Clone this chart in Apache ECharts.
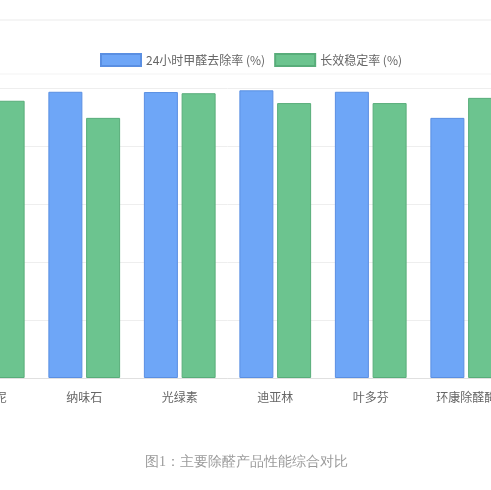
<!DOCTYPE html>
<html>
<head>
    <meta charset="UTF-8">
    <title>主要除醛产品性能综合对比</title>
    <script src="https://cdn.jsdelivr.net/npm/echarts@6/dist/echarts.min.js"></script>
    <style type="text/css">
        html, body {
            margin: 0;
            width: 491px;
            height: 490px;
            overflow: hidden;
            background: #fff;
        }
        #main {
            position: absolute;
            left: -100px;
            top: 0;
            width: 693px;
            height: 490px;
        }
    </style>
</head>
<body>
<div id="main"></div>
<script>
    // 数据
    var categories = ['硅藻泥', '纳味石', '光绿素', '迪亚林', '叶多芬', '环康除醛酶'];
    var removalRate = [97.5, 98.7, 98.6, 99.2, 98.7, 89.7];   // 24小时甲醛去除率
    var stableRate = [95.6, 89.7, 98.2, 94.8, 94.8, 96.6];    // 长效稳定率
    var yTicks = [0, 20, 40, 60, 80, 100];

    var font = '"Noto Sans CJK SC", "Noto Sans", sans-serif';
    var myChart = echarts.init(document.getElementById('main'));

    var option = {
        textStyle: { fontFamily: font },
        animation: false,
        title: {
            text: '图1：主要除醛产品性能综合对比',
            left: 'center',
            top: 450,
            textStyle: {
                fontSize: 14,
                fontWeight: 'normal',
                color: '#9a9a9a',
                fontFamily: 'serif'
            }
        },
        legend: {
            top: 48,
            left: 195,
            icon: 'rect',
            itemWidth: 40,
            itemHeight: 12,
            itemGap: 9,
            textStyle: { fontSize: 12, color: '#666', fontFamily: font },
            data: ['24小时甲醛去除率 (%)', '长效稳定率 (%)']
        },
        graphic: [
            { type: 'line', shape: { x1: 0, y1: 20, x2: 693, y2: 20 }, style: { stroke: '#ebebeb', lineWidth: 1 } },
            { type: 'line', shape: { x1: 0, y1: 74, x2: 693, y2: 74 }, style: { stroke: '#f3f3f3', lineWidth: 1 } }
        ],
        grid: {
            left: 41,
            right: 79,
            top: 88,
            bottom: 112
        },
        xAxis: {
            type: 'category',
            data: categories,
            axisLine: { lineStyle: { color: '#e0e0e0' } },
            axisTick: { show: false },
            axisLabel: { fontSize: 12, color: '#666', margin: 13 }
        },
        yAxis: {
            type: 'value',
            min: yTicks[0],
            max: yTicks[yTicks.length - 1],
            interval: 20,
            axisLine: { show: false },
            axisTick: { show: false },
            splitLine: { lineStyle: { color: '#eeeeee' } },
            axisLabel: { color: '#666' }
        },
        series: [{
            name: '24小时甲醛去除率 (%)',
            type: 'bar',
            barWidth: 34,
            barGap: '11%',
            data: removalRate,
            itemStyle: { color: '#6ea6f7', borderColor: '#5a8fe2', borderWidth: 1 }
        }, {
            name: '长效稳定率 (%)',
            type: 'bar',
            barWidth: 34,
            barGap: '11%',
            data: stableRate,
            itemStyle: { color: '#6cc48f', borderColor: '#58ad7a', borderWidth: 1 }
        }]
    };

    myChart.setOption(option);
</script>
</body>
</html>
